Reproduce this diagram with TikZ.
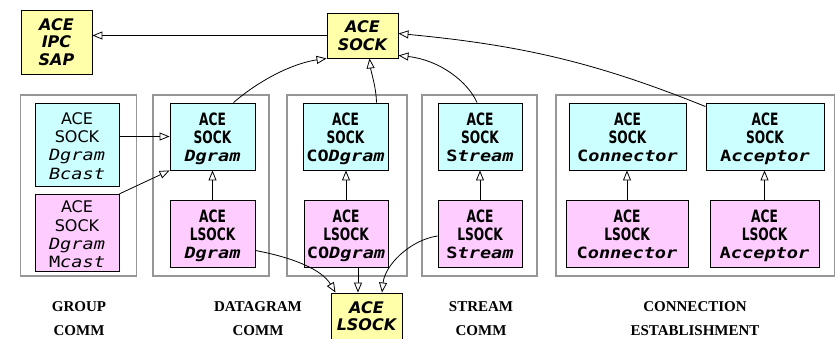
\documentclass[tikz,border=0pt]{standalone}
\usepackage{fontspec}
\usetikzlibrary{arrows.meta}
\newfontfamily\sansR{DejaVu Sans}
\newfontfamily\sansN[FakeStretch=0.72]{DejaVu Sans}
\newfontfamily\monoN[FakeStretch=1.2]{DejaVu Sans Mono}
\newfontfamily\labelfont{Liberation Serif}
\newcommand\mn{\monoN\fontsize{15.5}{17.8}\selectfont}
% struts that even out the text block of the class boxes
\newcommand\tp{\rule{0pt}{18.5pt}}
\newcommand\bt{\rule[-4pt]{0pt}{4pt}}
\definecolor{cyanbox}{RGB}{204,255,255}
\definecolor{pinkbox}{RGB}{255,204,255}
\definecolor{yellowbox}{RGB}{255,255,170}
\definecolor{groupline}{RGB}{150,150,150}
\tikzset{
  cls/.style={draw=black, line width=0.9pt, inner sep=0pt, align=center},
  sockcls/.style={cls, fill=cyanbox, font=\sansN\bfseries\fontsize{17}{17.8}\selectfont},
  lsockcls/.style={cls, fill=pinkbox, font=\sansN\bfseries\fontsize{17}{17.8}\selectfont},
  plaincls/.style={cls, font=\sansR\fontsize{16}{18.3}\selectfont},
  basecls/.style={cls, fill=yellowbox, font=\sansR\bfseries\itshape\fontsize{16}{17.6}\selectfont},
  groupbox/.style={draw=groupline, line width=1.1pt, inner sep=0pt},
  grouplabel/.style={align=center, inner sep=0pt, font=\labelfont\bfseries\fontsize{15}{24}\selectfont},
  inh/.style={line width=0.8pt, -{Triangle[length=10pt,width=8pt,fill=white,line width=0.8pt]}}
}
\begin{document}
\begin{tikzpicture}[x=1pt,y=-1pt]
\useasboundingbox (0,0) rectangle (838,339);

% category frames
\node[groupbox, minimum width=116pt, minimum height=181pt] (ggroup) at (78.7,185.5) {};
\node[groupbox, minimum width=116pt, minimum height=181pt] (gdgram) at (211,185.5) {};
\node[groupbox, minimum width=120pt, minimum height=181pt] (gcod) at (347,185.5) {};
\node[groupbox, minimum width=115pt, minimum height=181pt] (gstream) at (479.5,185.5) {};
\node[groupbox, minimum width=278.5pt, minimum height=181pt] (gconn) at (695.25,185.5) {};

% base classes
\node[basecls, minimum width=71pt, minimum height=64pt] (ipc) at (56.5,42) {ACE\\IPC\\SAP};
\node[basecls, minimum width=71pt, minimum height=45pt] (sock) at (362.5,35.5) {ACE\\SOCK};
\node[basecls, minimum width=71pt, minimum height=46pt] (lsock) at (366.5,316) {ACE\\LSOCK};

% group communication
\node[plaincls, fill=cyanbox, minimum width=84pt, minimum height=83pt] (bcast) at (77,144.5)
  {\tp ACE\\SOCK\\{\mn\itshape Dgram}\\{\mn\itshape Bcast}\bt};
\node[plaincls, fill=pinkbox, minimum width=84pt, minimum height=74pt] (mcast) at (77,233)
  {\tp ACE\\SOCK\\{\mn\itshape Dgram}\\{\mn M\itshape cast}\bt};

% datagram communication
\node[sockcls, minimum width=85pt, minimum height=67pt] (sdg) at (212.5,136.5)
  {\tp ACE\\SOCK\\{\mn\itshape Dgram}\bt};
\node[lsockcls, minimum width=85pt, minimum height=67pt] (ldg) at (212.5,233.5)
  {\tp ACE\\LSOCK\\{\mn\itshape Dgram}\bt};
\node[sockcls, minimum width=85pt, minimum height=67pt] (scod) at (345.5,136.5)
  {\tp ACE\\SOCK\\{\mn CO\itshape Dgram}\bt};
\node[lsockcls, minimum width=84pt, minimum height=67pt] (lcod) at (346,233.5)
  {\tp ACE\\LSOCK\\{\mn CO\itshape Dgram}\bt};

% stream communication
\node[sockcls, minimum width=84pt, minimum height=67pt] (sstr) at (480,136.5)
  {\tp ACE\\SOCK\\{\mn S\itshape tream}\bt};
\node[lsockcls, minimum width=84pt, minimum height=67pt] (lstr) at (480,233.5)
  {\tp ACE\\LSOCK\\{\mn S\itshape tream}\bt};

% connection establishment
\node[sockcls, minimum width=117pt, minimum height=67pt] (scon) at (627.5,136.5)
  {\tp ACE\\SOCK\\{\mn C\itshape onnector}\bt};
\node[lsockcls, minimum width=122pt, minimum height=67pt] (lcon) at (627,233.5)
  {\tp ACE\\LSOCK\\{\mn C\itshape onnector}\bt};
\node[sockcls, minimum width=118pt, minimum height=67pt] (sacc) at (765,136.5)
  {\tp ACE\\SOCK\\{\mn A\itshape cceptor}\bt};
\node[lsockcls, minimum width=109pt, minimum height=67pt] (lacc) at (764.5,233.5)
  {\tp ACE\\LSOCK\\{\mn A\itshape cceptor}\bt};

% category captions
\node[grouplabel] (lgroup) at (79,318.7) {GROUP\\COMM};
\node[grouplabel] (ldgram) at (258,318.7) {DATAGRAM\\COMM};
\node[grouplabel] (lstream) at (481,318.7) {STREAM\\COMM};
\node[grouplabel] (lconn) at (695,318.7) {CONNECTION\\ESTABLISHMENT};

% inheritance towards ACE_IPC_SAP and ACE_SOCK
\draw[inh] (sock.west) -- (sock.west -| ipc.east);
\draw[inh] ([xshift=21pt]sdg.north) .. controls (262,78) and (295,63) .. (sock.south west);
\draw[inh] ([xshift=31pt]scod.north) .. controls (376,86) and (371,72) .. ([xshift=7pt]sock.south);
\draw[inh] ([xshift=-3pt]sstr.north) .. controls (468,82) and (440,60) .. ([yshift=3pt]sock.south east);
\draw[inh] ([yshift=-4pt]sacc.north west) .. controls (595,62) and (520,45) .. ([yshift=2pt]sock.east);

% inheritance inside the categories
\draw[inh] (bcast.east |- sdg.west) -- (sdg.west);
\draw[inh] (mcast.north east) -- (sdg.south west);
\draw[inh] (ldg.north) -- (sdg.south);
\draw[inh] (lcod.north) -- (scod.south -| lcod.north);
\draw[inh] (lstr.north) -- (sstr.south);
\draw[inh] (lcon.north) -- (scon.south -| lcon.north);
\draw[inh] (lacc.north) -- (sacc.south -| lacc.north);

% inheritance towards ACE_LSOCK
\coordinate (codfoot) at ([xshift=12pt]lcod.south);
\draw[inh] ([yshift=-17pt]ldg.east) .. controls (295,258) and (322,270) .. ([xshift=-31pt]lsock.north);
\draw[inh] (codfoot) -- (codfoot |- lsock.north);
\draw[inh] ([yshift=-2.5pt]lstr.west) .. controls (410,240) and (385,265) .. ([xshift=15.5pt]lsock.north);
\end{tikzpicture}
\end{document}
